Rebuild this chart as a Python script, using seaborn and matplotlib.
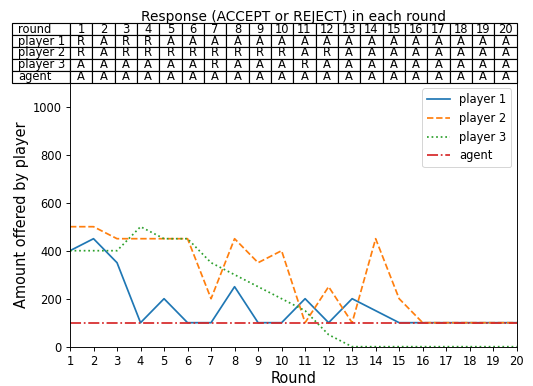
import matplotlib
matplotlib.use("Agg")
import matplotlib.pyplot as plt
import seaborn as sns
import pandas as pd

rounds = list(range(1, 21))
player1 = [400, 450, 350, 100, 200, 100, 100, 250, 100, 100, 200, 100, 200, 150, 100, 100, 100, 100, 100, 100]
player2 = [500, 500, 450, 450, 450, 450, 200, 450, 350, 400, 100, 250, 100, 450, 200, 100, 100, 100, 100, 100]
player3 = [400, 400, 400, 500, 450, 450, 350, 300, 250, 200, 150, 50, 0, 0, 0, 0, 0, 0, 0, 0]
agent = [100] * 20

resp_player1 = list("RARRAAAAAAAAAAAAAAAA")
resp_player2 = list("RARRRRRRRRARAAAAAAAA")
resp_player3 = list("AAAAAARAAARAAAAAAAAA")
resp_agent = list("AAAAAAAAAAAAAAAAAAAA")

series_names = ["player 1", "player 2", "player 3", "agent"]
series_values = [player1, player2, player3, agent]
colors = ["#1f77b4", "#ff7f0e", "#2ca02c", "#d62728"]
styles = ["-", "--", ":", "-."]

S = 1.15  # scale of the reference rendering relative to 72 dpi

plt.rcParams.update({
    "axes.linewidth": 0.8 * S,
    "xtick.major.width": 0.8 * S,
    "ytick.major.width": 0.8 * S,
    "xtick.major.size": 3.5 * S,
    "ytick.major.size": 3.5 * S,
    "xtick.major.pad": 3.5 * S,
    "ytick.major.pad": 3.5 * S,
    "legend.frameon": True,
})

fig = plt.figure(figsize=(533 / 72, 386 / 72), dpi=72)
ax = fig.add_axes([70 / 533, (386 - 346.7) / 386, 446.7 / 533, 264 / 386])

for name, vals, c, ls in zip(series_names, series_values, colors, styles):
    df = pd.DataFrame({"Round": rounds, "amount": vals})
    sns.lineplot(data=df, x="Round", y="amount", ax=ax, color=c, linestyle=ls,
                 linewidth=1.5 * S, label=name)

ax.set_xlim(1, 20)
ax.set_ylim(0, 1100)
ax.set_xticks(rounds)
ax.set_yticks([0, 200, 400, 600, 800, 1000])
ax.tick_params(labelsize=10 * S)
ax.set_xlabel("Round", fontsize=12.6 * S * 0.87 / 0.87 if False else 14.5, labelpad=3)
ax.set_ylabel("Amount offered by player", fontsize=14.5, labelpad=4)
ax.legend(loc="upper right", fontsize=10 * S)

cell_text = [["round"] + [str(r) for r in rounds],
             ["player 1"] + resp_player1,
             ["player 2"] + resp_player2,
             ["player 3"] + resp_player3,
             ["agent"] + resp_agent]
label_w = 58.0
col_w = 446.7 / 20
total = label_w + 446.7
col_widths = [label_w / total] + [col_w / total] * 20
tbl = ax.table(cellText=cell_text, colWidths=col_widths, cellLoc="center",
               bbox=[-label_w / 446.7, 1.0, total / 446.7, 59.5 / 264])
tbl.auto_set_font_size(False)
tbl.set_fontsize(10 * S)
for (r, c), cell in tbl.get_celld().items():
    cell.set_linewidth(1.0 * S)
    if c == 0:
        cell.PAD = 0.1
        cell.set_text_props(ha="left")
        cell._loc = "left"

ax.set_title("Response (ACCEPT or REJECT) in each round", fontsize=12 * S,
             y=1.0 + 59.5 / 264, pad=2)

fig.savefig("out.png", dpi=72)
